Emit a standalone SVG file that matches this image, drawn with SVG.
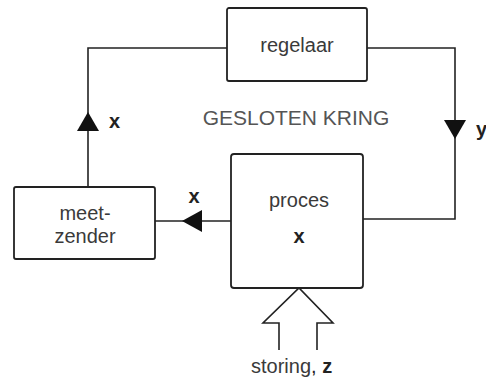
<svg xmlns="http://www.w3.org/2000/svg" width="486" height="379" viewBox="0 0 486 379">
<style>
.box{fill:#fff;stroke:#222;stroke-width:1.8}
.ln{fill:none;stroke:#222;stroke-width:1.6}
.ah{fill:#111;stroke:none}
text{font-family:"Liberation Sans",Arial,sans-serif;fill:#3a3a3a}
.lbl{font-size:20px;text-anchor:middle}
.var{font-size:20px;font-weight:bold;fill:#222}
</style>
<rect width="486" height="379" fill="#fff"/>
<g id="connectors">
<path class="ln" d="M227 48 H88 V187"/>
<path class="ln" d="M367 48 H455 V219 H363"/>
<path class="ln" d="M231 221 H155"/>
<polygon class="ah" points="88,112 77,131 99,131"/>
<polygon class="ah" points="455,139 444,120 466,120"/>
<polygon class="ah" points="182,221 202,210 202,232"/>
<path class="ln" d="M279 350 V323 H263 L299 288 L333 323 H317 V350"/>
</g>
<g id="regelaar">
<rect class="box" x="227" y="8" width="140" height="73" rx="2"/>
<text class="lbl" x="297" y="52">regelaar</text>
</g>
<g id="proces">
<rect class="box" x="231" y="154" width="132" height="134" rx="3"/>
<text class="lbl" x="299" y="207">proces</text>
<text class="var" x="299" y="243" text-anchor="middle">x</text>
</g>
<g id="meetzender">
<rect class="box" x="14" y="187" width="141" height="72" rx="2"/>
<text class="lbl" x="85" y="220">meet-</text>
<text class="lbl" x="85" y="243">zender</text>
</g>
<text x="296" y="125" font-size="21" text-anchor="middle" style="fill:#555">GESLOTEN KRING</text>
<text class="var" x="109" y="128">x</text>
<text class="var" x="476" y="136">y</text>
<text class="var" x="194" y="203" text-anchor="middle">x</text>
<text x="251" y="373" font-size="20">storing<tspan style="fill:#222">, </tspan><tspan font-weight="bold" style="fill:#222">z</tspan></text>
</svg>
